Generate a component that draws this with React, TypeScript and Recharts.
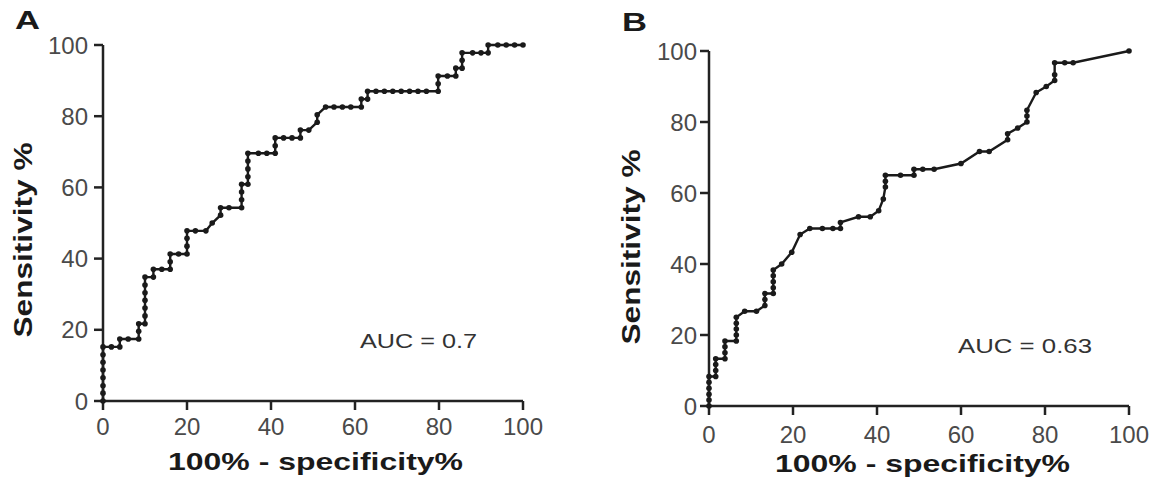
import { LineChart, Line, XAxis, YAxis } from 'recharts';

// axis ticks shared by both panels
const TICKS = [0, 20, 40, 60, 80, 100];

// Panel A: 100% - specificity% (x) and sensitivity % (y)
const fprA = [
  0, 0, 0, 0, 0, 0, 0, 0, 2, 4, 4, 6, 8.5, 8.5, 8.5, 10, 10, 10, 10, 10, 10, 10,
  12, 12, 14, 16, 16, 16, 18, 20, 20, 20, 20, 22, 24.5, 26, 28, 28, 30, 33, 33, 33, 33,
  34.5, 34.5, 34.5, 34.5, 34.5, 37, 39, 41, 41, 41, 43, 45, 47, 47, 49, 51, 51, 53, 55,
  57, 59, 61.5, 61.5, 63, 63, 65, 67, 69, 71, 73, 75, 77, 79.8, 79.8, 79.8, 82, 84, 84,
  85.5, 85.5, 85.5, 88, 90, 91.7, 91.7, 94, 96, 98, 100,
];
const sensA = [
  0, 2.2, 4.3, 6.5, 8.7, 10.9, 13, 15.2, 15.2, 15.2, 17.4, 17.4, 17.4, 19.6, 21.7,
  21.7, 23.9, 26.1, 28.3, 30.4, 32.6, 34.8, 34.8, 37, 37, 37, 39.1, 41.3, 41.3, 41.3,
  43.5, 45.7, 47.8, 47.8, 47.8, 50, 52.2, 54.3, 54.3, 54.3, 56.5, 58.7, 60.9, 60.9, 63,
  65.2, 67.4, 69.6, 69.6, 69.6, 69.6, 71.7, 73.9, 73.9, 73.9, 73.9, 76.1, 76.1, 78.3,
  80.4, 82.6, 82.6, 82.6, 82.6, 82.6, 84.8, 84.8, 87, 87, 87, 87, 87, 87, 87, 87, 87,
  89.1, 91.3, 91.3, 91.3, 93.5, 93.5, 95.7, 97.8, 97.8, 97.8, 97.8, 100, 100, 100, 100, 100,
];

// Panel B
const fprB = [
  0, 0, 0, 0, 0, 0, 1.6, 1.6, 1.6, 1.6, 3.8, 3.8, 3.8, 3.8, 6.5, 6.5, 6.5, 6.5, 6.5,
  8.5, 11.3, 13.3, 13.3, 13.3, 15.3, 15.3, 15.3, 15.3, 15.3, 17.3, 19.7, 21.7, 24, 27,
  29.5, 31.3, 31.3, 35.6, 38.4, 40.4, 41.5, 42, 42, 42, 45.6, 48.8, 48.8, 50.9, 53.6,
  60, 64.4, 66.7, 71.1, 71.1, 73.5, 75.7, 75.7, 75.7, 77.9, 80.3, 82.3, 82.3, 82.3,
  84.7, 86.7, 100,
];
const sensB = [
  0, 1.7, 3.3, 5, 6.7, 8.3, 8.3, 10, 11.7, 13.3, 13.3, 15, 16.7, 18.3, 18.3, 20, 21.7,
  23.3, 25, 26.7, 26.7, 28.3, 30, 31.7, 31.7, 33.3, 35, 36.7, 38.3, 40, 43.3, 48.3, 50,
  50, 50, 50, 51.7, 53.3, 53.3, 55, 58.3, 61.7, 63.3, 65, 65, 65, 66.7, 66.7, 66.7,
  68.3, 71.7, 71.7, 75, 76.7, 78.3, 80, 81.7, 83.3, 88.3, 90, 91.7, 93.3, 96.7, 96.7,
  96.7, 100,
];

const AUC_A = 'AUC = 0.7';
const AUC_B = 'AUC = 0.63';

const INK = '#1a1a1a';
const AXIS = '#222';

type PanelProps = {
  letter: string;
  xs: number[];
  ys: number[];
  auc: string;
  left: number;
  width: number;
  margin: { top: number; right: number; bottom: number; left: number };
  xTickMargin: number;
  yTickMargin: number;
  letterPos: [number, number];
  yTitlePos: [number, number];
  xTitlePos: [number, number];
  aucPos: [number, number];
  aucLen: number;
};

function Panel(p: PanelProps) {
  const data = p.xs.map((x, i) => ({ x, y: p.ys[i] }));
  const axisProps = {
    stroke: AXIS,
    strokeWidth: 2.5,
    tickSize: 9,
    tick: { fill: '#4a4a4a', fontSize: 24 },
    ticks: TICKS,
    domain: [0, 100] as [number, number],
    type: 'number' as const,
    interval: 0 as const,
  };
  return (
    <div style={{ position: 'absolute', left: p.left, top: 0 }}>
      <LineChart width={p.width} height={479} data={data} margin={p.margin}>
        <XAxis dataKey="x" {...axisProps} height={30} tickMargin={p.xTickMargin} />
        <YAxis dataKey="y" {...axisProps} width={60} tickMargin={p.yTickMargin} />
        <Line
          dataKey="y"
          type="linear"
          stroke={INK}
          strokeWidth={2.4}
          dot={{ r: 2.8, fill: INK, stroke: INK, strokeWidth: 0 }}
          activeDot={false}
          isAnimationActive={false}
        />
        <text x={p.letterPos[0]} y={p.letterPos[1]} fontSize={25} fontWeight="bold" fill={INK}
          textLength={25} lengthAdjust="spacingAndGlyphs">
          {p.letter}
        </text>
        <text
          x={p.yTitlePos[0]}
          y={p.yTitlePos[1]}
          transform={`rotate(-90 ${p.yTitlePos[0]} ${p.yTitlePos[1]})`}
          textAnchor="middle"
          fontSize={25}
          fontWeight="bold"
          fill={INK}
          textLength={195}
          lengthAdjust="spacingAndGlyphs"
        >
          Sensitivity %
        </text>
        <text
          x={p.xTitlePos[0]}
          y={p.xTitlePos[1]}
          fontSize={24}
          fontWeight="bold"
          fill={INK}
          textLength={295}
          lengthAdjust="spacingAndGlyphs"
        >
          100% - specificity%
        </text>
        <text
          x={p.aucPos[0]}
          y={p.aucPos[1]}
          fontSize={21}
          fill="#333"
          textLength={p.aucLen}
          lengthAdjust="spacingAndGlyphs"
        >
          {p.auc}
        </text>
      </LineChart>
    </div>
  );
}

export default function App() {
  return (
    <div
      style={{
        position: 'absolute',
        left: 0,
        top: 0,
        width: 1161,
        height: 479,
        background: '#fff',
        fontFamily: '"Liberation Sans", Arial, Helvetica, sans-serif',
      }}
    >
      <Panel
        letter="A"
        xs={fprA}
        ys={sensA}
        auc={AUC_A}
        left={0}
        width={580}
        margin={{ top: 45, right: 57, bottom: 48, left: 43 }}
        xTickMargin={8}
        yTickMargin={6}
        letterPos={[15, 29]}
        yTitlePos={[32, 240]}
        xTitlePos={[168, 470]}
        aucPos={[360, 348]}
        aucLen={117}
      />
      <Panel
        letter="B"
        xs={fprB}
        ys={sensB}
        auc={AUC_B}
        left={580}
        width={581}
        margin={{ top: 51, right: 32, bottom: 43, left: 69 }}
        xTickMargin={11}
        yTickMargin={3}
        letterPos={[42, 31]}
        yTitlePos={[60, 247]}
        xTitlePos={[195, 472]}
        aucPos={[378, 353]}
        aucLen={134}
      />
    </div>
  );
}
